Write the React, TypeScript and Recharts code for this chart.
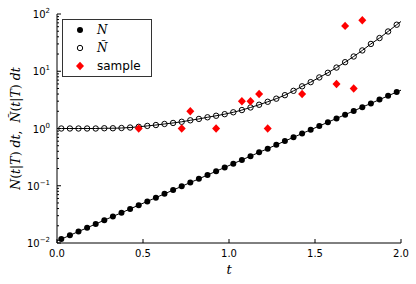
import { ComposedChart, Line, Scatter, XAxis, YAxis } from "recharts";

// bin centres (t) of the two expectation curves
const T_POINTS = [
  0.025, 0.075, 0.125, 0.175, 0.225, 0.275, 0.325, 0.375, 0.425, 0.475,
  0.525, 0.575, 0.625, 0.675, 0.725, 0.775, 0.825, 0.875, 0.925, 0.975,
  1.025, 1.075, 1.125, 1.175, 1.225, 1.275, 1.325, 1.375, 1.425, 1.475,
  1.525, 1.575, 1.625, 1.675, 1.725, 1.775, 1.825, 1.875, 1.925, 1.975,
];
const N_POINTS = [
  0.0117, 0.0136, 0.0159, 0.0184, 0.0215, 0.025, 0.0291, 0.0338, 0.0394, 0.0458,
  0.0533, 0.062, 0.0722, 0.084, 0.0977, 0.114, 0.132, 0.154, 0.179, 0.209,
  0.243, 0.283, 0.329, 0.383, 0.445, 0.518, 0.603, 0.702, 0.817, 0.95,
  1.106, 1.287, 1.498, 1.743, 2.028, 2.36, 2.747, 3.196, 3.72, 4.33,
];
const NT_POINTS = [
  1.0, 1.0, 1.0, 1.0, 1.0, 1.01, 1.01, 1.02, 1.04, 1.07,
  1.11, 1.15, 1.2, 1.25, 1.31, 1.39, 1.47, 1.57, 1.67, 1.78,
  1.92, 2.1, 2.33, 2.6, 2.93, 3.32, 3.82, 4.55, 5.45, 6.45,
  7.8, 9.4, 11.6, 14.4, 18.1, 23.1, 30.0, 38.0, 49.5, 65.0,
];
// curve values at the plot edges t = 0 and t = 2
const EDGE_T = [0, 2];
const N_EDGE = [0.0109, 4.67];
const NT_EDGE = [1.0, 74];

const SAMPLE_T = [0.475, 0.725, 0.775, 0.925, 1.075, 1.125, 1.175, 1.225, 1.425, 1.625, 1.675, 1.725, 1.775];
const SAMPLE_VALUES = [1, 1, 2, 1, 3, 3, 4, 1, 4, 6, 62, 5, 78];

const X_TICKS = [0, 0.5, 1, 1.5, 2];
const Y_TICKS = [
  0.01, 0.02, 0.03, 0.04, 0.05, 0.06, 0.07, 0.08, 0.09,
  0.1, 0.2, 0.3, 0.4, 0.5, 0.6, 0.7, 0.8, 0.9,
  1, 2, 3, 4, 5, 6, 7, 8, 9,
  10, 20, 30, 40, 50, 60, 70, 80, 90,
  100,
];

const toPts = (ts: number[], ys: number[]) => ts.map((t, i) => ({ t, y: ys[i] }));
const nPts = toPts(T_POINTS, N_POINTS);
const ntPts = toPts(T_POINTS, NT_POINTS);
const nCurve = toPts([EDGE_T[0], ...T_POINTS, EDGE_T[1]], [N_EDGE[0], ...N_POINTS, N_EDGE[1]]);
const ntCurve = toPts([EDGE_T[0], ...T_POINTS, EDGE_T[1]], [NT_EDGE[0], ...NT_POINTS, NT_EDGE[1]]);
const samplePts = toPts(SAMPLE_T, SAMPLE_VALUES);

const SANS = "'DejaVu Sans', sans-serif";
const SERIF = "'DejaVu Serif', serif";

const isMajor = (v: number) => Math.abs(Math.log10(v) - Math.round(Math.log10(v))) < 1e-6;

const BottomTick = ({ x, y, payload }: any) => (
  <g>
    <line x1={x} y1={y} x2={x} y2={y - 4} stroke="#000" />
    <text x={x} y={y + 14} textAnchor="middle" fontFamily={SANS} fontSize={10} fill="#000">
      {payload.value.toFixed(1)}
    </text>
  </g>
);
const TopTick = ({ x, y }: any) => <line x1={x} y1={y} x2={x} y2={y + 4} stroke="#000" />;

const LeftTick = ({ x, y, payload }: any) => {
  const major = isMajor(payload.value);
  const exp = Math.round(Math.log10(payload.value));
  return (
    <g>
      <line x1={x} y1={y} x2={x + (major ? 4 : 2)} y2={y} stroke="#000" />
      {major && (
        <text x={x - 7} y={y + 4} textAnchor="end" fontFamily={SANS} fontSize={10} fill="#000">
          10
          <tspan dy={-5} fontSize={7}>{exp < 0 ? "\u2212" + -exp : exp}</tspan>
        </text>
      )}
    </g>
  );
};
const RightTick = ({ x, y, payload }: any) => {
  const major = isMajor(payload.value);
  return <line x1={x} y1={y} x2={x - (major ? 4 : 2)} y2={y} stroke="#000" />;
};

const YLabel = ({ viewBox }: any) => {
  const cy = viewBox.y + viewBox.height / 2;
  return (
    <text x={20} y={cy} transform={`rotate(-90 20 ${cy})`} textAnchor="middle" fontFamily={SERIF} fontSize={12.5} fill="#000"
      style={{ whiteSpace: "pre" }}>
      <tspan fontStyle="italic">N</tspan>(<tspan fontStyle="italic">t</tspan>|<tspan fontStyle="italic">T</tspan>)
      <tspan fontStyle="italic">{" dt"}</tspan>{",  "}
      <tspan fontStyle="italic">Ñ</tspan>(<tspan fontStyle="italic">t</tspan>|<tspan fontStyle="italic">T</tspan>)
      <tspan fontStyle="italic">{" dt"}</tspan>
    </text>
  );
};
const XLabel = ({ viewBox }: any) => (
  <text x={viewBox.x + viewBox.width / 2} y={viewBox.y + 31} textAnchor="middle" fontFamily={SERIF} fontStyle="italic" fontSize={13} fill="#000">
    t
  </text>
);

const FilledDot = ({ cx, cy }: any) => <circle cx={cx} cy={cy} r={3} fill="#000" />;
const OpenDot = ({ cx, cy }: any) => <circle cx={cx} cy={cy} r={2.7} fill="none" stroke="#000" strokeWidth={1} />;
const Diamond = ({ cx, cy }: any) => (
  <polygon points={`${cx},${cy - 4.2} ${cx + 4},${cy} ${cx},${cy + 4.2} ${cx - 4},${cy}`} fill="#ff0000" />
);

const LEGEND_ROWS = [
  { key: "N", marker: <circle cx={6} cy={6} r={3} fill="#000" />, label: <span style={{ fontFamily: SERIF, fontStyle: "italic" }}>N</span> },
  { key: "Nt", marker: <circle cx={6} cy={6} r={2.7} fill="none" stroke="#000" />, label: <span style={{ fontFamily: SERIF, fontStyle: "italic" }}>Ñ</span> },
  { key: "s", marker: <polygon points="6,1.8 10,6 6,10.2 2,6" fill="#ff0000" />, label: <span style={{ fontFamily: SANS }}>sample</span> },
];

const LegendBox = () => (
  <div style={{ position: "absolute", left: 62, top: 19, width: 90, height: 58, border: "1px solid #333", boxSizing: "border-box", background: "#fff" }}>
    {LEGEND_ROWS.map((r, i) => (
      <div key={r.key} style={{ position: "absolute", left: 11, top: 3 + i * 18.2, height: 14, display: "flex", alignItems: "center" }}>
        <svg width={12} height={12} style={{ display: "block" }}>{r.marker}</svg>
        <div style={{ marginLeft: 11, fontSize: 12, lineHeight: "14px", color: "#000" }}>{r.label}</div>
      </div>
    ))}
  </div>
);

export default function App() {
  return (
    <div style={{ position: "absolute", left: 0, top: 0, width: 416, height: 284 }}>
      <ComposedChart width={416} height={284} margin={{ top: 14, right: 15, bottom: 0, left: 0 }}>
        <XAxis xAxisId="b" dataKey="t" type="number" domain={[0, 2]} ticks={X_TICKS} interval={0} height={41}
          stroke="#000" tickSize={0} tickMargin={0} tickLine={false} tick={<BottomTick />} allowDataOverflow label={<XLabel />} />
        <XAxis xAxisId="top" orientation="top" type="number" domain={[0, 2]} ticks={X_TICKS} interval={0} height={0}
          stroke="#000" tickSize={0} tickMargin={0} tickLine={false} tick={<TopTick />} allowDataOverflow />
        <YAxis yAxisId="l" dataKey="y" type="number" scale="log" domain={[0.01, 100]} ticks={Y_TICKS} interval={0} width={57}
          stroke="#000" tickSize={0} tickMargin={0} tickLine={false} tick={<LeftTick />} allowDataOverflow label={<YLabel />} />
        <YAxis yAxisId="r" orientation="right" type="number" scale="log" domain={[0.01, 100]} ticks={Y_TICKS} interval={0} width={0}
          stroke="#000" tickSize={0} tickMargin={0} tickLine={false} tick={<RightTick />} allowDataOverflow />
        <Line xAxisId="b" yAxisId="l" data={nCurve} dataKey="y" type="linear" stroke="#000" strokeWidth={1} dot={false} isAnimationActive={false} />
        <Line xAxisId="b" yAxisId="l" data={ntCurve} dataKey="y" type="linear" stroke="#000" strokeWidth={1} dot={false} isAnimationActive={false} />
        <Scatter xAxisId="b" yAxisId="l" data={nPts} dataKey="y" shape={<FilledDot />} isAnimationActive={false} />
        <Scatter xAxisId="b" yAxisId="l" data={ntPts} dataKey="y" shape={<OpenDot />} isAnimationActive={false} />
        <Scatter xAxisId="b" yAxisId="l" data={samplePts} dataKey="y" shape={<Diamond />} isAnimationActive={false} />
      </ComposedChart>
      <LegendBox />
    </div>
  );
}
